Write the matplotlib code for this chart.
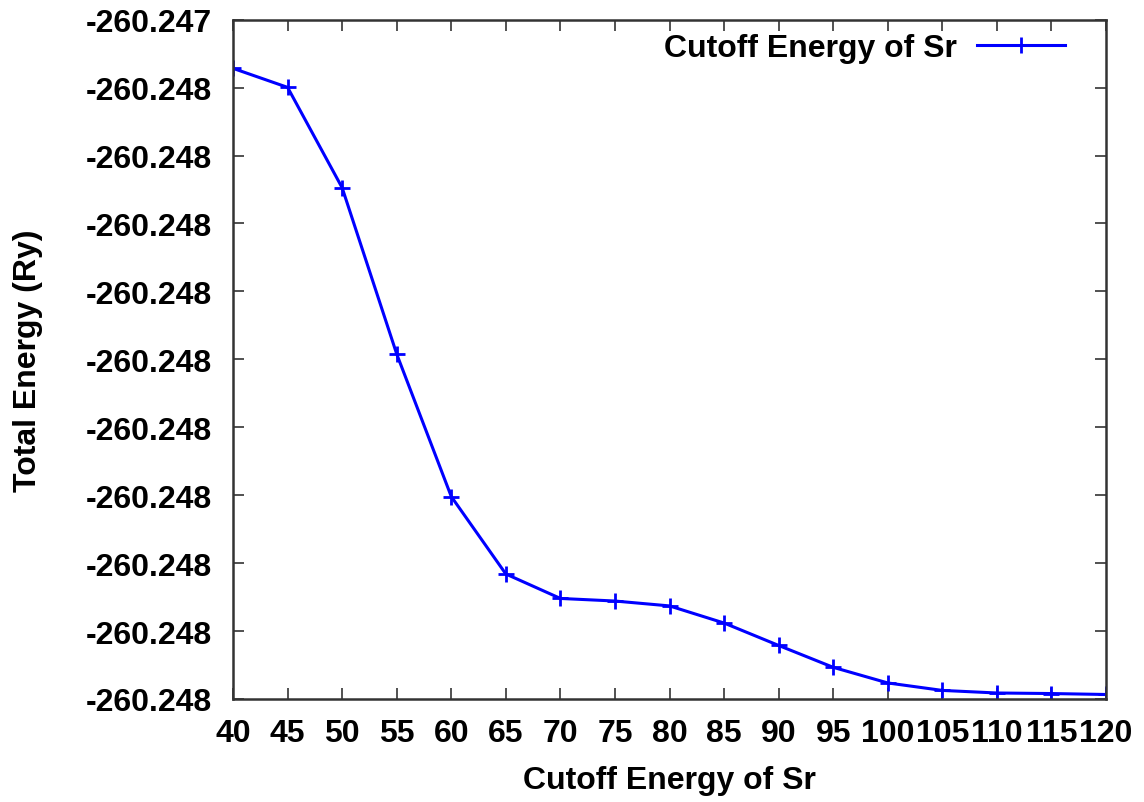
import matplotlib
matplotlib.use("Agg")
import matplotlib.pyplot as plt

# Total energy convergence versus plane-wave cutoff for Sr
cutoff = [40, 45, 50, 55, 60, 65, 70, 75, 80, 85, 90, 95, 100, 105, 110, 115, 120]
energy = [-260.2474858, -260.2474998, -260.2475737, -260.2476961, -260.2478010,
          -260.2478580, -260.2478760, -260.2478779, -260.2478815, -260.2478941,
          -260.2479106, -260.2479267, -260.2479382, -260.2479437, -260.2479456,
          -260.2479460, -260.2479467]

y_ticks = [-260.24745, -260.24750, -260.24755, -260.24760, -260.24765, -260.24770,
           -260.24775, -260.24780, -260.24785, -260.24790, -260.24795]
y_tick_labels = ["-260.247"] + ["-260.248"] * 10
x_ticks = list(range(40, 121, 5))

series_label = "Cutoff Energy of Sr"
x_label = "Cutoff Energy of Sr"
y_label = "Total Energy (Ry)"

FS = 23

plt.rcParams["font.family"] = ["Liberation Sans", "DejaVu Sans"]
plt.rcParams["font.weight"] = "bold"

fig = plt.figure(figsize=(11.44, 8.03), dpi=100)
ax = fig.add_axes([0.2037, 0.1283, 0.9668 - 0.2037, 0.9742 - 0.1283])

ax.plot(cutoff, energy, color="#0000ff", lw=2.2, marker="+", ms=11, mew=2.0,
        label=series_label)

ax.set_xlim(40, 120)
ax.set_ylim(y_ticks[-1], y_ticks[0])
ax.set_xticks(x_ticks)
ax.set_xticklabels([str(v) for v in x_ticks])
ax.set_yticks(y_ticks)
ax.set_yticklabels(y_tick_labels)

ax.tick_params(axis="both", direction="in", length=8, width=1.2, color="#333333",
               top=True, right=True, labelsize=FS)
ax.tick_params(axis="x", pad=14)
ax.tick_params(axis="y", pad=15)
for lbl in ax.get_xticklabels() + ax.get_yticklabels():
    lbl.set_fontweight("bold")
for sp in ax.spines.values():
    sp.set_linewidth(1.8)
    sp.set_color("#333333")

ax.set_xlabel(x_label, fontsize=FS, fontweight="bold")
ax.set_ylabel(y_label, fontsize=FS, fontweight="bold")
ax.xaxis.set_label_coords(0.5, -0.097)
ax.yaxis.set_label_coords(-0.218, 0.5)

ax.legend(loc="upper right", bbox_to_anchor=(0.953, 0.98), frameon=False,
          markerfirst=False, numpoints=1, handlelength=2.75, handletextpad=0.65,
          borderpad=0, borderaxespad=0, prop={"size": FS, "weight": "bold"})

fig.savefig("out.png", dpi=100)
